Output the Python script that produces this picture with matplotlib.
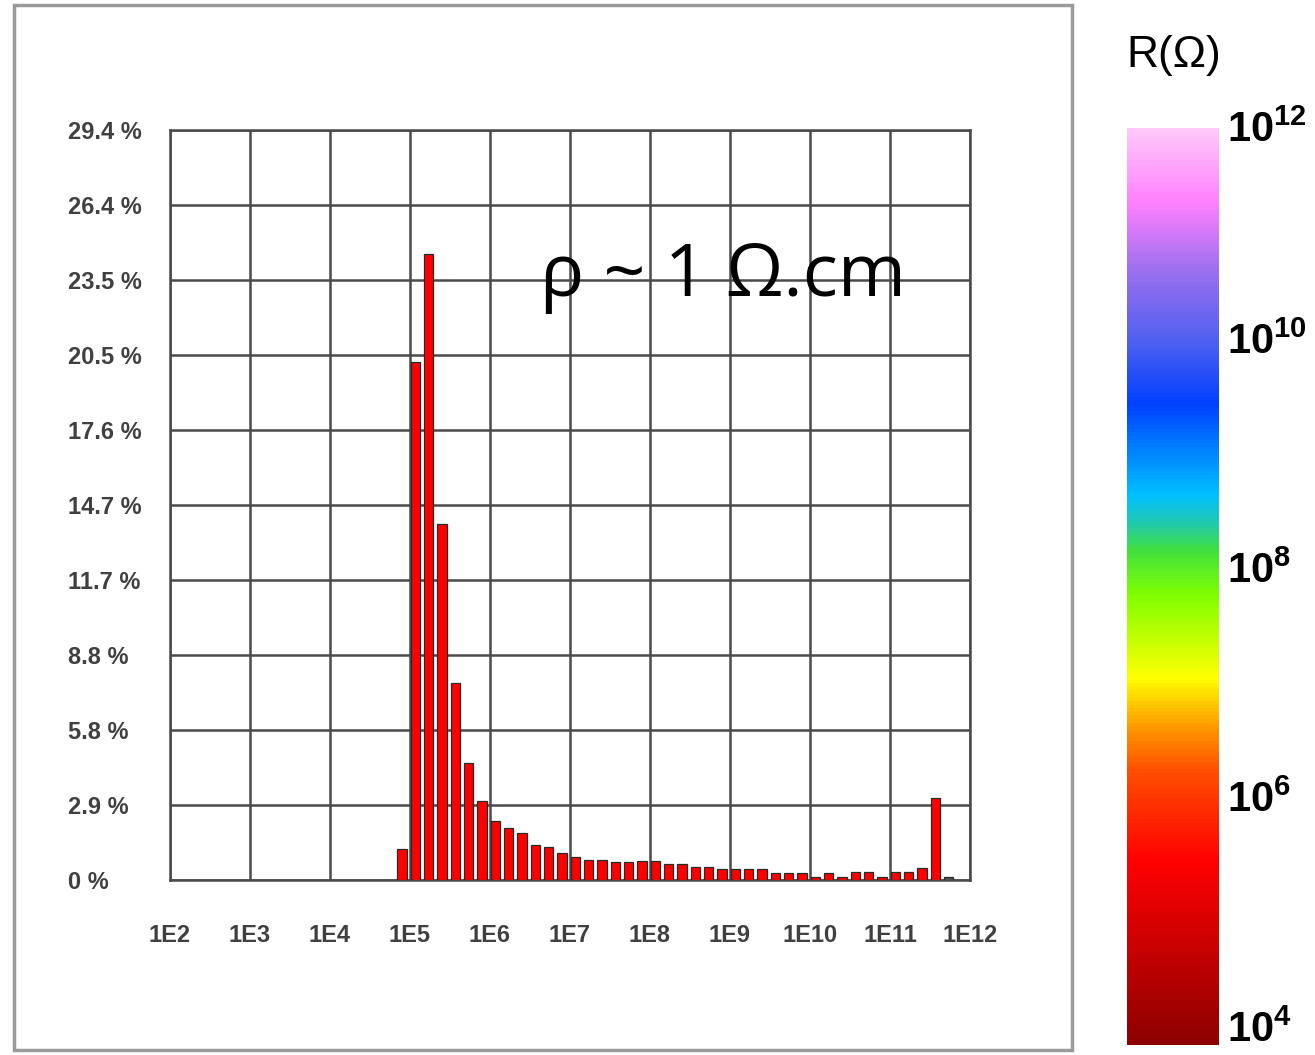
import numpy as np
import matplotlib
matplotlib.use("Agg")
import matplotlib.pyplot as plt
from matplotlib.colors import LinearSegmentedColormap, LogNorm
from matplotlib.patches import Rectangle
import matplotlib.transforms as mtransforms
import matplotlib.cm as cm

# histogram of resistance, 6 bins per decade, first bin centred just below 1E5
first_bin = 4.9
bins_per_decade = 6
percent = [1.20, 20.3, 24.55, 13.95, 7.72, 4.6, 3.1, 2.33, 2.03, 1.83,
           1.36, 1.30, 1.05, 0.92, 0.80, 0.80, 0.72, 0.72, 0.75, 0.75,
           0.61, 0.61, 0.51, 0.51, 0.44, 0.44, 0.44, 0.44, 0.29, 0.29,
           0.29, 0.13, 0.29, 0.13, 0.31, 0.31, 0.13, 0.31, 0.31, 0.46,
           3.23, 0.13]
y_ticks = [0, 2.94, 5.88, 8.82, 11.76, 14.7, 17.64, 20.58, 23.52, 26.46, 29.4]
y_labels = ["0 %", "2.9 %", "5.8 %", "8.8 %", "11.7 %", "14.7 %",
            "17.6 %", "20.5 %", "23.5 %", "26.4 %", "29.4 %"]
x_decades = list(range(2, 13))
x_labels = ["1E%d" % d for d in x_decades]

cbar_ticks = [1e4, 1e6, 1e8, 1e10, 1e12]
cbar_labels = [r"$\mathbf{10^{4}}$", r"$\mathbf{10^{6}}$", r"$\mathbf{10^{8}}$",
               r"$\mathbf{10^{10}}$", r"$\mathbf{10^{12}}$"]
# colour stops of the R scale (fraction from bottom, colour)
cmap_stops = [(0.0, "#8c0000"), (0.2, "#ff0000"), (0.30, "#ff5000"),
              (0.35, "#ffa000"), (0.40, "#ffff00"), (0.49, "#80ff00"),
              (0.54, "#40e040"), (0.57, "#20c8b0"), (0.60, "#00c0ff"),
              (0.70, "#0040ff"), (0.77, "#5060f0"), (0.85, "#a070f0"),
              (0.92, "#ff80ff"), (1.0, "#ffc8f8")]

plt.rcParams["mathtext.fontset"] = "custom"
plt.rcParams["mathtext.rm"] = "Liberation Sans"
plt.rcParams["mathtext.bf"] = "Liberation Sans:bold"

W, H = 1315, 1055
fig = plt.figure(figsize=(W / 100, H / 100), dpi=100)

# outer frame of the screenshot
fig.patches.append(Rectangle((14 / W, 1 - 1050 / H), (1072 - 14) / W, (1050 - 5) / H,
                             transform=fig.transFigure, fill=False,
                             edgecolor="#9a9a9a", lw=2.5))

ax = fig.add_axes([170 / W, 1 - 880 / H, 800 / W, 750 / H])
x = first_bin + np.arange(len(percent)) / bins_per_decade
colors = ["#ff0000"] * (len(percent) - 1) + ["#555555"]
ax.bar(x, percent, width=0.12, color=colors, edgecolor="#2a2a2a", lw=0.9, zorder=3)

ax.set_xlim(2, 12)
ax.set_ylim(0, 29.4)
ax.set_xticks(x_decades)
ax.set_xticklabels(x_labels)
ax.set_yticks(y_ticks)
ax.set_yticklabels(y_labels)
ax.grid(True, color="#4a4a4a", lw=1.8, zorder=1)
for s in ax.spines.values():
    s.set_color("#4a4a4a")
    s.set_linewidth(1.8)

tick_font = dict(family=["Liberation Sans Narrow", "DejaVu Sans Condensed", "Liberation Sans"],
                 weight="bold", size=17)
ax.tick_params(axis="both", length=0, colors="#404040")
ax.tick_params(axis="x", pad=32)
ax.tick_params(axis="y", pad=102 * 0.72)
for lab in ax.get_xticklabels():
    lab.set_fontproperties(matplotlib.font_manager.FontProperties(**tick_font))
for lab in ax.get_yticklabels():
    lab.set_fontproperties(matplotlib.font_manager.FontProperties(**tick_font))
    lab.set_horizontalalignment("left")

ax.text(0.462, 0.804, "ρ ~ 1 Ω.cm", transform=ax.transAxes, fontsize=53,
        family=["Open Sans", "DejaVu Sans"], color="black", va="center", ha="left", zorder=5)

# colour scale
cmap = LinearSegmentedColormap.from_list("rscale", cmap_stops)
cax = fig.add_axes([1127 / W, 1 - 1045 / H, 92 / W, (1045 - 128) / H])
sm = cm.ScalarMappable(norm=LogNorm(1e4, 1e12), cmap=cmap)
cb = fig.colorbar(sm, cax=cax)
cb.outline.set_visible(False)
cb.set_ticks(cbar_ticks)
cb.set_ticklabels(cbar_labels)
cax.tick_params(length=0, pad=6, labelsize=30)
cax.minorticks_off()
for lab, dy in zip(cax.get_yticklabels(), [20, 20, 20, 20, 2]):
    offset = mtransforms.ScaledTranslation(0, dy / 100, fig.dpi_scale_trans)
    lab.set_transform(lab.get_transform() + offset)

fig.text(1126 / W, 1 - 56 / H, "R(Ω)", fontsize=32, family=["Liberation Sans"],
         va="center", ha="left")

fig.savefig("out.png", dpi=100)
